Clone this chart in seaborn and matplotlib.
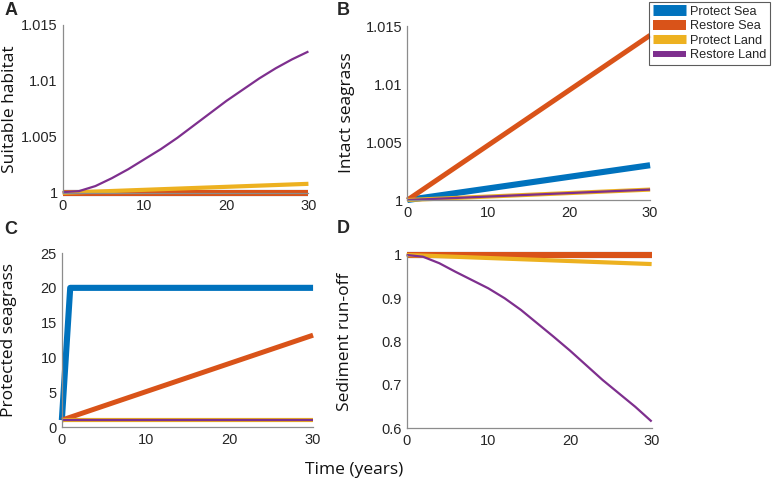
import matplotlib
matplotlib.use("Agg")
import matplotlib.pyplot as plt
from matplotlib.ticker import FuncFormatter
from matplotlib.lines import Line2D
import seaborn as sns

# time points (years)
years_fine = [0, 2, 4, 6, 8, 10, 12, 14, 16, 18, 20, 22, 24, 26, 28, 30]
years_lin = [0, 30]
years_step = [0, 1, 30]

scenarios = ["Protect Sea", "Restore Sea", "Protect Land", "Restore Land"]
colors = ["#0072BD", "#D95319", "#EDB120", "#7E2F8E"]
widths = [4.4, 3.6, 3.0, 1.6]

# A: suitable habitat
habitat_protect_sea = [1.0, 1.0]
habitat_restore_sea = [1.0, 1.0]
habitat_protect_land = [1.0, 1.0008]
habitat_restore_land = [1.00006, 1.00015, 1.0006, 1.0013, 1.0021, 1.0030, 1.0039, 1.0049,
                        1.0060, 1.0071, 1.0082, 1.0092, 1.0102, 1.0111, 1.0119, 1.0126]

# B: intact seagrass
intact_protect_sea = [1.0, 1.003]
intact_restore_sea = [1.0, 1.0142]
intact_protect_land = [1.0, 1.0009]
intact_restore_land = [1.0, 1.0009]

# C: protected seagrass
protected_protect_sea = [1, 20, 20]
protected_restore_sea = [1, 13.2]
protected_protect_land = [1, 1]
protected_restore_land = [1, 1]

# D: sediment run-off
runoff_protect_sea = [1.0, 1.0]
runoff_restore_sea = [1.0, 1.0]
runoff_protect_land = [1.0, 0.979]
runoff_restore_land = [1.0, 0.996, 0.981, 0.961, 0.942, 0.923, 0.900, 0.873,
                       0.842, 0.811, 0.779, 0.745, 0.711, 0.680, 0.649, 0.615]

panels = [
    dict(letter="A", ylabel="Suitable habitat", pos=[0.081, 0.600, 0.318, 0.349],
         labelx=-0.182, letterxy=(0.006, 0.979),
         ylim=(1, 1.015), yticks=[1, 1.005, 1.01, 1.015],
         series=[(years_lin, habitat_protect_sea), (years_lin, habitat_restore_sea),
                 (years_lin, habitat_protect_land), (years_fine, habitat_restore_land)]),
    dict(letter="B", ylabel="Intact seagrass", pos=[0.527, 0.585, 0.314, 0.361],
         labelx=-0.215, letterxy=(0.436, 0.979),
         ylim=(1, 1.015), yticks=[1, 1.005, 1.01, 1.015],
         series=[(years_lin, intact_protect_sea), (years_lin, intact_restore_sea),
                 (years_lin, intact_protect_land), (years_lin, intact_restore_land)]),
    dict(letter="C", ylabel="Protected seagrass", pos=[0.080, 0.114, 0.325, 0.361],
         labelx=-0.179, letterxy=(0.006, 0.523),
         ylim=(0, 25), yticks=[0, 5, 10, 15, 20, 25],
         series=[(years_step, protected_protect_sea), (years_lin, protected_restore_sea),
                 (years_lin, protected_protect_land), (years_lin, protected_restore_land)]),
    dict(letter="D", ylabel="Sediment run-off", pos=[0.526, 0.112, 0.317, 0.359],
         labelx=-0.22, letterxy=(0.436, 0.525),
         ylim=(0.6, 1.0), yticks=[0.6, 0.7, 0.8, 0.9, 1.0],
         series=[(years_lin, runoff_protect_sea), (years_lin, runoff_restore_sea),
                 (years_lin, runoff_protect_land), (years_fine, runoff_restore_land)]),
]

sns.set_style("white")
plt.rcParams["font.family"] = ["Liberation Sans", "DejaVu Sans"]

fig = plt.figure(figsize=(7.73, 4.82), dpi=100)
fmt = FuncFormatter(lambda v, p: "%g" % round(v, 4))

for pnl in panels:
    ax = fig.add_axes(pnl["pos"])
    for (x, y), c, lw in zip(pnl["series"], colors, widths):
        # flat overlapping lines: let orange cover blue as in the original
        if c == colors[1] and pnl["letter"] in ("A", "D"):
            lw = widths[0]
        sns.lineplot(x=x, y=y, ax=ax, color=c, linewidth=lw, clip_on=False,
                     solid_capstyle="butt", solid_joinstyle="round")
    ax.set_xlim(0, 30)
    ax.set_ylim(*pnl["ylim"])
    ax.set_xticks([0, 10, 20, 30])
    ax.set_yticks(pnl["yticks"])
    ax.yaxis.set_major_formatter(fmt)
    sns.despine(ax=ax)
    for s in ["left", "bottom"]:
        ax.spines[s].set_color("#8c8c8c")
        ax.spines[s].set_linewidth(0.9)
    ax.tick_params(direction="in", length=3, color="#8c8c8c", labelsize=10.5,
                   labelcolor="#262626")
    ax.tick_params(axis="x", pad=4.5)
    ax.tick_params(axis="y", pad=3.5)
    ax.set_ylabel(pnl["ylabel"], fontsize=12.5, family=["Open Sans", "DejaVu Sans"],
                  color="#111111")
    ax.yaxis.set_label_coords(pnl["labelx"], 0.5)
    fig.text(*pnl["letterxy"], pnl["letter"], fontsize=13, fontweight="bold",
             ha="left", va="center")

fig.text(0.458, 0.025, "Time (years)", fontsize=12.5, ha="center", va="center",
         family=["Open Sans", "DejaVu Sans"], color="#111111")

handles = [Line2D([0], [0], color=c, linewidth=lw, solid_capstyle="butt")
           for c, lw in zip(colors, [7.9, 7.2, 6.5, 4.3])]
leg = fig.legend(handles, scenarios, loc="upper right", bbox_to_anchor=(0.996, 0.996),
                 borderaxespad=0, fontsize=9.2, frameon=True, fancybox=False,
                 handlelength=2.6, borderpad=0.3, labelspacing=0.2, handletextpad=0.3)
leg.get_frame().set_edgecolor("#333333")
leg.get_frame().set_linewidth(0.8)

fig.savefig("out.png", dpi=100)
